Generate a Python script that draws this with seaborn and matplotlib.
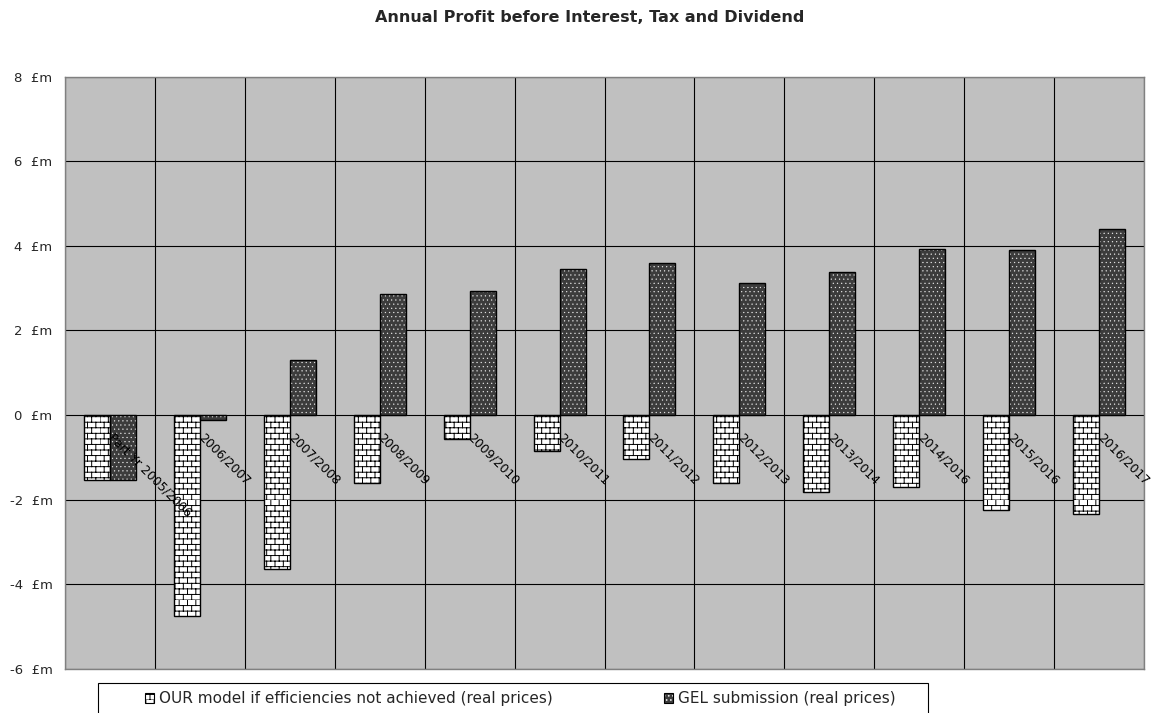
import warnings

import matplotlib
matplotlib.use("Agg")
import matplotlib.pyplot as plt
import matplotlib.hatch as mhatch
import matplotlib.patches as mpatches
from matplotlib.colors import to_rgba
from matplotlib.path import Path
import numpy as np
import pandas as pd
import seaborn as sns

warnings.filterwarnings("ignore", message=".*hatch must consist.*")

# ---- data (£m) -------------------------------------------------------------
years = ["Part Yr 2005/2006", "2006/2007", "2007/2008", "2008/2009", "2009/2010",
         "2010/2011", "2011/2012", "2012/2013", "2013/2014", "2014/2016",
         "2015/2016", "2016/2017"]
our_model = [-1.54, -4.76, -3.63, -1.60, -0.57, -0.84, -1.04, -1.60, -1.83, -1.70, -2.24, -2.34]
gel_submission = [-1.54, -0.13, 1.29, 2.85, 2.94, 3.45, 3.59, 3.13, 3.39, 3.93, 3.90, 4.39]
series_names = ["OUR model if efficiencies not achieved (real prices)",
                "GEL submission (real prices)"]
y_ticks = [-6, -4, -2, 0, 2, 4, 6, 8]
title = "Annual Profit before Interest, Tax and Dividend"


# ---- a brick hatch ('b') -----------------------------------------------------
class BrickHatch(mhatch.HatchPatternBase):
    def __init__(self, hatch, density):
        n = hatch.count("b")
        self.rows = 18 * n
        self.cols = 12 * n
        self.num_vertices = 2 * (self.rows + self.rows * self.cols)

    def set_vertices_and_codes(self, vertices, codes):
        h = 1.0 / self.rows
        w = 1.0 / self.cols
        k = 0
        for i in range(self.rows):
            y0 = i * h
            vertices[k] = (0.0, y0)
            vertices[k + 1] = (1.0, y0)
            k += 2
            shift = 0.5 * w * (i % 2)
            for j in range(self.cols):
                x = j * w + shift
                vertices[k] = (x, y0)
                vertices[k + 1] = (x, y0 + h)
                k += 2
        codes[0::2] = Path.MOVETO
        codes[1::2] = Path.LINETO


mhatch._hatch_types.append(BrickHatch)


def style_hatch(patch, colour, width):
    if hasattr(patch, "set_hatchcolor"):
        patch.set_hatchcolor(colour)
    else:
        patch._hatch_color = to_rgba(colour)
    if hasattr(patch, "set_hatch_linewidth"):
        patch.set_hatch_linewidth(width)
    else:
        patch._hatch_linewidth = width
    patch.stale = True


# ---- style ---------------------------------------------------------------------
sns.set_style("white")
plt.rcParams["font.family"] = ["DejaVu Sans"]
plt.rcParams["hatch.linewidth"] = 0.7

OUR_FACE = "white"
GEL_FACE = "#3c3c3c"
PLOT_BG = "#C0C0C0"
BORDER = "#808080"

W, H = 1153, 713
fig = plt.figure(figsize=(W / 100, H / 100), dpi=100)
fig.patch.set_facecolor("white")
ax = fig.add_axes([65 / W, 1 - 668.8 / H, (1144 - 65) / W, (668.8 - 76.6) / H])
ax.set_facecolor(PLOT_BG)

df = pd.DataFrame({
    "year": years * 2,
    "series": [series_names[0]] * len(years) + [series_names[1]] * len(years),
    "value": our_model + gel_submission,
})

sns.barplot(data=df, x="year", y="value", hue="series", order=years,
            hue_order=series_names,
            palette={series_names[0]: OUR_FACE, series_names[1]: GEL_FACE},
            saturation=1, width=0.578, gap=0, errorbar=None,
            edgecolor="black", linewidth=1.0, legend=False, ax=ax, zorder=3)

for bar in ax.containers[0]:
    bar.set_hatch("b")
    style_hatch(bar, "black", 0.7)
for bar in ax.containers[1]:
    bar.set_hatch("....")
    style_hatch(bar, "#e8e8e8", 0.35)

# ---- axes -----------------------------------------------------------------------
ax.set_xlim(-0.5, len(years) - 0.5)
ax.set_ylim(y_ticks[0], y_ticks[-1])
ax.set_xlabel("")
ax.set_ylabel("")
ax.set_axisbelow(True)

ax.set_yticks(y_ticks)
ax.set_yticklabels([f"{v}  £m" for v in y_ticks], fontsize=9.5)
ax.tick_params(axis="y", direction="out", length=5, width=0.8, color="#404040", pad=4)
ax.grid(axis="y", color="black", linewidth=0.8)

ax.set_xticks(np.arange(-0.5, len(years), 1.0), minor=True)
ax.grid(axis="x", which="minor", color="black", linewidth=0.8)
ax.grid(axis="x", which="major", visible=False)
ax.tick_params(axis="x", which="both", length=0, labelbottom=False)

for side in ("left", "right", "top", "bottom"):
    ax.spines[side].set_visible(True)
    ax.spines[side].set_color(BORDER)
    ax.spines[side].set_linewidth(1.0)

# category labels hang from the zero line
for i, label in enumerate(years):
    ax.annotate(label, xy=(i, 0), xycoords="data", xytext=(3.6, -11.5),
                textcoords="offset points", rotation=-45, rotation_mode="anchor",
                ha="left", va="top", fontsize=8.9, color="black", zorder=4)

# ---- title ------------------------------------------------------------------------
fig.text(590 / W, 1 - 18 / H, title, ha="center", va="center",
         fontsize=11.5, fontweight="bold")

# ---- legend -----------------------------------------------------------------------
legend_box = mpatches.Rectangle((98 / W, -0.05), (928 - 98) / W, 0.05 + (1 - 683 / H),
                                transform=fig.transFigure, facecolor="white",
                                edgecolor="black", linewidth=0.8)
fig.add_artist(legend_box)

h_our = mpatches.Patch(facecolor=OUR_FACE, edgecolor="black", hatch="b", linewidth=0.8)
h_gel = mpatches.Patch(facecolor=GEL_FACE, edgecolor="black", hatch="....", linewidth=0.8)
style_hatch(h_our, "black", 0.7)
style_hatch(h_gel, "#e8e8e8", 0.35)
leg = fig.legend([h_our, h_gel], series_names, loc="center left",
                 bbox_to_anchor=(145 / W, 1 - 699 / H), bbox_transform=fig.transFigure,
                 ncol=2, frameon=False, fontsize=11, handlelength=0.6,
                 handleheight=0.6, handletextpad=0.3, columnspacing=7.3,
                 borderpad=0, borderaxespad=0)
leg.set_zorder(5)

fig.savefig("out.png", dpi=100, facecolor="white")
